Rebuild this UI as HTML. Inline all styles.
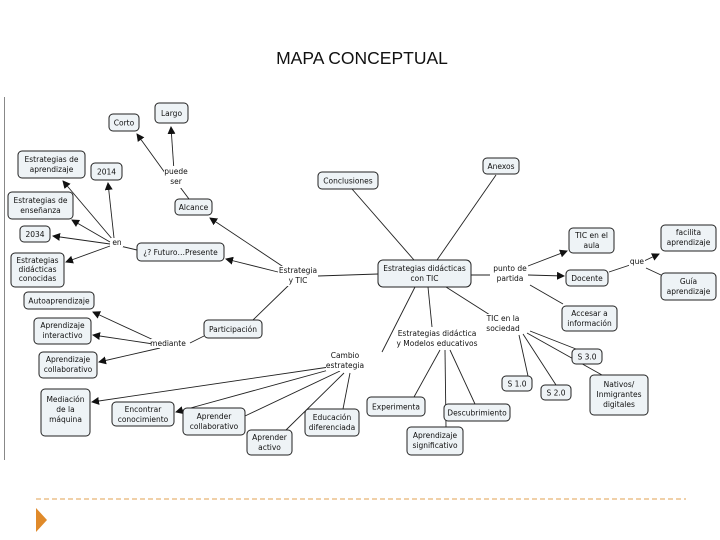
<!DOCTYPE html>
<html><head><meta charset="utf-8"><style>
html,body{margin:0;padding:0;background:#fff;width:720px;height:540px;overflow:hidden}
svg{position:absolute;left:0;top:0}
text{font-family:"DejaVu Sans","Liberation Sans",sans-serif;font-size:7.5px;fill:#111}
.b{fill:#eef3f6;stroke:#222;stroke-width:1}
.l{stroke:#222;stroke-width:0.9;fill:none}
.a{stroke:#222;stroke-width:0.9;fill:none;marker-end:url(#ar)}
</style></head><body>
<svg width="720" height="540" viewBox="0 0 720 540">
<defs><marker id="ar" markerWidth="8" markerHeight="8" refX="7" refY="4" orient="auto" markerUnits="userSpaceOnUse"><path d="M0,0 L8,4 L0,8 z" fill="#111"/></marker></defs>
<text x="362" y="64" text-anchor="middle" style="font-family:'Liberation Sans',sans-serif;font-size:17.5px">MAPA CONCEPTUAL</text>
<line x1="4.5" y1="97" x2="4.5" y2="460" stroke="#888" stroke-width="1"/>
<line x1="36" y1="499" x2="686" y2="499" stroke="#e0a050" stroke-width="1" stroke-dasharray="5,3"/>
<polygon points="36,508 47,520 36,532" fill="#e08a2a"/>

<!-- connectors -->
<path class="a" d="M174,171 L171,127"/>
<path class="a" d="M168,177 L137,134"/>
<path class="l" d="M180,187 L189,199"/>
<path class="a" d="M285,268 L210,218"/>
<path class="a" d="M278,272 L226,259"/>
<path class="l" d="M120,246 L137,250"/>
<path class="a" d="M113,240 L63,181"/>
<path class="a" d="M114,238 L108,183"/>
<path class="a" d="M110,242 L72,220"/>
<path class="a" d="M110,244 L53,236"/>
<path class="a" d="M110,246 L66,262"/>
<path class="l" d="M318,276 L378,274"/>
<path class="l" d="M352,189 L414,260"/>
<path class="l" d="M496,175 L437,260"/>
<path class="l" d="M471,275 L490,275"/>
<path class="a" d="M528,266 L567,251"/>
<path class="a" d="M528,275 L564,276"/>
<path class="l" d="M530,285 L563,304"/>
<path class="l" d="M609,272 L630,265"/>
<path class="a" d="M644,261 L659,254"/>
<path class="l" d="M646,268 L661,275"/>
<path class="l" d="M415,287 L382,352"/>
<path class="l" d="M428,287 L432,327"/>
<path class="l" d="M446,287 L490,315"/>
<path class="l" d="M290,284 L253,320"/>
<path class="l" d="M204,336 L190,343"/>
<path class="a" d="M160,343 L93,312"/>
<path class="a" d="M160,345 L93,335"/>
<path class="a" d="M160,348 L99,362"/>
<path class="a" d="M336,366 L92,402"/>
<path class="a" d="M336,368 L176,412"/>
<path class="l" d="M340,371 L245,416"/>
<path class="l" d="M344,373 L286,430"/>
<path class="l" d="M350,373 L343,409"/>
<path class="l" d="M440,350 L414,397"/>
<path class="l" d="M445,350 L446,427"/>
<path class="l" d="M450,350 L475,404"/>
<path class="l" d="M519,335 L528,376"/>
<path class="l" d="M523,334 L556,385"/>
<path class="l" d="M527,333 L602,375"/>
<path class="l" d="M530,331 L576,349"/>

<!-- boxes -->
<g>
<rect class="b" x="155" y="103" width="33" height="20" rx="4"/><text x="171.5" y="116" text-anchor="middle">Largo</text>
<rect class="b" x="109" y="114" width="30" height="17" rx="4"/><text x="124" y="125.5" text-anchor="middle">Corto</text>
<rect class="b" x="18" y="151" width="67" height="27" rx="4"/><text x="51.5" y="162" text-anchor="middle">Estrategias de</text><text x="51.5" y="172" text-anchor="middle">aprendizaje</text>
<rect class="b" x="91" y="163" width="31" height="17" rx="4"/><text x="106.5" y="174.5" text-anchor="middle">2014</text>
<rect class="b" x="8" y="192" width="65" height="27" rx="4"/><text x="40.5" y="203" text-anchor="middle">Estrategias de</text><text x="40.5" y="213" text-anchor="middle">enseñanza</text>
<rect class="b" x="20" y="226" width="30" height="16" rx="4"/><text x="35" y="237" text-anchor="middle">2034</text>
<rect class="b" x="11" y="253" width="53" height="34" rx="4"/><text x="37.5" y="263" text-anchor="middle">Estrategias</text><text x="37.5" y="272" text-anchor="middle">didácticas</text><text x="37.5" y="281" text-anchor="middle">conocidas</text>
<rect class="b" x="175" y="199" width="37" height="16" rx="4"/><text x="193.5" y="210" text-anchor="middle">Alcance</text>
<rect class="b" x="137" y="243" width="87" height="18" rx="4"/><text x="180.5" y="255" text-anchor="middle">¿? Futuro…Presente</text>
<rect class="b" x="318" y="172" width="60" height="17" rx="4"/><text x="348" y="183.5" text-anchor="middle">Conclusiones</text>
<rect class="b" x="483" y="158" width="36" height="16" rx="4"/><text x="501" y="169" text-anchor="middle">Anexos</text>
<rect class="b" x="378" y="260" width="93" height="27" rx="5"/><text x="424.5" y="271" text-anchor="middle">Estrategias didácticas</text><text x="424.5" y="281" text-anchor="middle">con TIC</text>
<rect class="b" x="569" y="228" width="45" height="25" rx="4"/><text x="591.5" y="238" text-anchor="middle">TIC en el</text><text x="591.5" y="248" text-anchor="middle">aula</text>
<rect class="b" x="566" y="270" width="42" height="16" rx="4"/><text x="587" y="281" text-anchor="middle">Docente</text>
<rect class="b" x="661" y="225" width="55" height="26" rx="4"/><text x="688.5" y="235" text-anchor="middle">facilita</text><text x="688.5" y="245" text-anchor="middle">aprendizaje</text>
<rect class="b" x="661" y="273" width="55" height="27" rx="4"/><text x="688.5" y="284" text-anchor="middle">Guía</text><text x="688.5" y="294" text-anchor="middle">aprendizaje</text>
<rect class="b" x="562" y="306" width="55" height="25" rx="4"/><text x="589.5" y="316" text-anchor="middle">Accesar a</text><text x="589.5" y="326" text-anchor="middle">información</text>
<rect class="b" x="572" y="349" width="30" height="15" rx="4"/><text x="587" y="359.5" text-anchor="middle">S 3.0</text>
<rect class="b" x="502" y="376" width="30" height="15" rx="4"/><text x="517" y="386.5" text-anchor="middle">S 1.0</text>
<rect class="b" x="541" y="385" width="30" height="15" rx="4"/><text x="556" y="395.5" text-anchor="middle">S 2.0</text>
<rect class="b" x="590" y="375" width="58" height="40" rx="4"/><text x="619" y="387" text-anchor="middle">Nativos/</text><text x="619" y="397" text-anchor="middle">Inmigrantes</text><text x="619" y="407" text-anchor="middle">digitales</text>
<rect class="b" x="367" y="397" width="58" height="19" rx="4"/><text x="396" y="409.5" text-anchor="middle">Experimenta</text>
<rect class="b" x="444" y="404" width="66" height="17" rx="4"/><text x="477" y="415.5" text-anchor="middle">Descubrimiento</text>
<rect class="b" x="407" y="427" width="56" height="28" rx="4"/><text x="435" y="438" text-anchor="middle">Aprendizaje</text><text x="435" y="448" text-anchor="middle">significativo</text>
<rect class="b" x="41" y="389" width="49" height="47" rx="4"/><text x="65.5" y="402" text-anchor="middle">Mediación</text><text x="65.5" y="412" text-anchor="middle">de la</text><text x="65.5" y="422" text-anchor="middle">máquina</text>
<rect class="b" x="112" y="402" width="62" height="24" rx="4"/><text x="143" y="412" text-anchor="middle">Encontrar</text><text x="143" y="422" text-anchor="middle">conocimiento</text>
<rect class="b" x="183" y="408" width="62" height="27" rx="4"/><text x="214" y="419" text-anchor="middle">Aprender</text><text x="214" y="429" text-anchor="middle">collaborativo</text>
<rect class="b" x="247" y="430" width="45" height="25" rx="4"/><text x="269.5" y="440" text-anchor="middle">Aprender</text><text x="269.5" y="450" text-anchor="middle">activo</text>
<rect class="b" x="305" y="409" width="54" height="27" rx="4"/><text x="332" y="420" text-anchor="middle">Educación</text><text x="332" y="430" text-anchor="middle">diferenciada</text>
<rect class="b" x="24" y="292" width="70" height="17" rx="4"/><text x="59" y="303.5" text-anchor="middle">Autoaprendizaje</text>
<rect class="b" x="34" y="318" width="57" height="26" rx="4"/><text x="62.5" y="328" text-anchor="middle">Aprendizaje</text><text x="62.5" y="338" text-anchor="middle">interactivo</text>
<rect class="b" x="39" y="352" width="58" height="26" rx="4"/><text x="68" y="362" text-anchor="middle">Aprendizaje</text><text x="68" y="372" text-anchor="middle">collaborativo</text>
<rect class="b" x="204" y="320" width="58" height="18" rx="4"/><text x="233" y="332" text-anchor="middle">Participación</text>
</g>

<!-- link labels -->
<rect x="164" y="166" width="24" height="22" fill="#fff"/>
<text x="176" y="174" text-anchor="middle">puede</text><text x="176" y="184" text-anchor="middle">ser</text>
<rect x="111" y="238" width="12" height="9" fill="#fff"/>
<text x="117" y="245" text-anchor="middle">en</text>
<rect x="280" y="266" width="37" height="20" fill="#fff"/>
<text x="298" y="273" text-anchor="middle">Estrategia</text><text x="298" y="283" text-anchor="middle">y TIC</text>
<rect x="491" y="264" width="37" height="20" fill="#fff"/>
<text x="510" y="271" text-anchor="middle">punto de</text><text x="510" y="281" text-anchor="middle">partida</text>
<rect x="629" y="257" width="16" height="9" fill="#fff"/>
<text x="637" y="264" text-anchor="middle">que</text>
<rect x="485" y="314" width="36" height="20" fill="#fff"/>
<text x="503" y="321" text-anchor="middle">TIC en la</text><text x="503" y="331" text-anchor="middle">sociedad</text>
<rect x="397" y="329" width="81" height="20" fill="#fff"/>
<text x="437" y="336" text-anchor="middle">Estrategias didáctica</text><text x="437" y="346" text-anchor="middle">y Modelos educativos</text>
<rect x="326" y="351" width="39" height="20" fill="#fff"/>
<text x="345" y="358" text-anchor="middle">Cambio</text><text x="345" y="368" text-anchor="middle">estrategia</text>
<rect x="151" y="339" width="35" height="9" fill="#fff"/>
<text x="168" y="346" text-anchor="middle">mediante</text>
</svg>
</body></html>
